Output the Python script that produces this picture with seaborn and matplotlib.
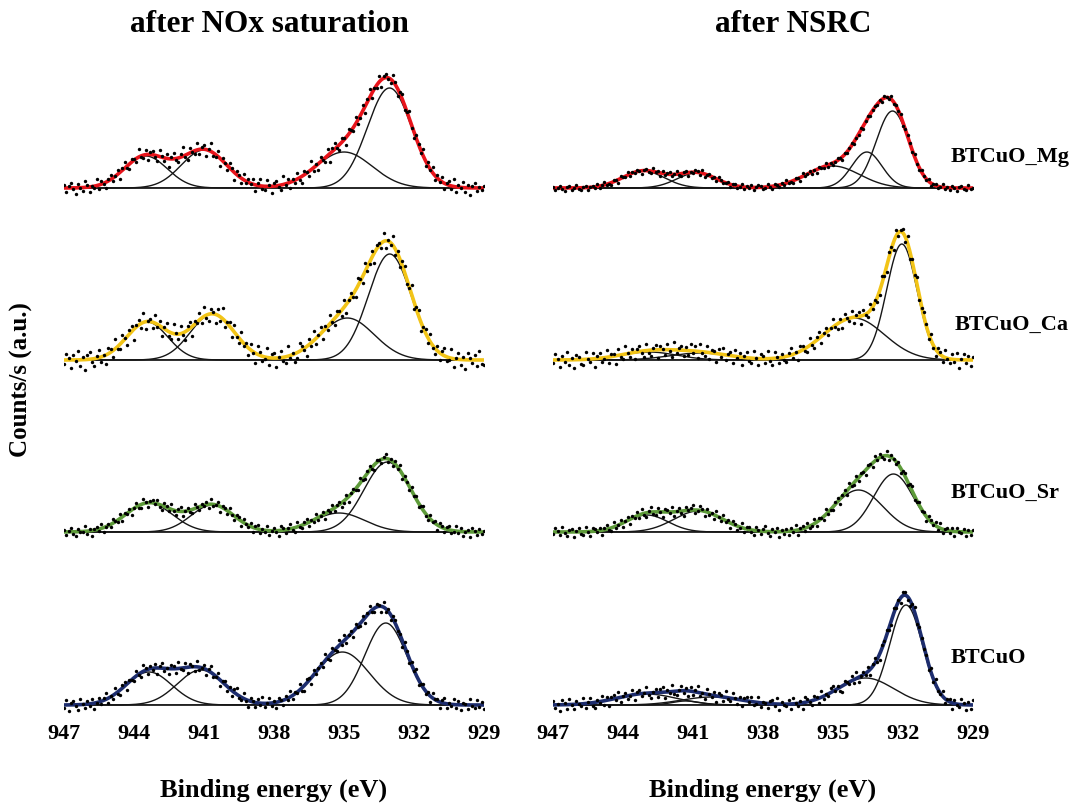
import numpy as np
import pandas as pd
import matplotlib
matplotlib.use("Agg")
import matplotlib.pyplot as plt
import seaborn as sns

# ---------------------------------------------------------------- data ----
energy_ticks = [947, 944, 941, 938, 935, 932, 929]
energy_window = (947.0, 929.0)
panel_titles = ["after NOx saturation", "after NSRC"]
sample_names = ["BTCuO_Mg", "BTCuO_Ca", "BTCuO_Sr", "BTCuO"]
envelope_colors = ["#e8141b", "#f2c417", "#5e9b3a", "#1d2d6e"]

# Cu 2p3/2 fit components: centre (eV), height (a.u.), sigma (eV)
# --- after NOx saturation
sat_mg_centers = [943.50, 941.00, 935.00, 933.05]
sat_mg_heights = [32, 38, 36, 100]
sat_mg_sigmas = [0.92, 0.97, 1.20, 0.95]

sat_ca_centers = [943.43, 940.64, 934.86, 933.04]
sat_ca_heights = [38, 46, 42, 106]
sat_ca_sigmas = [0.88, 0.94, 1.15, 0.92]

sat_sr_centers = [943.36, 940.64, 935.21, 933.14]
sat_sr_heights = [29, 27, 19, 70]
sat_sr_sigmas = [1.00, 0.92, 1.10, 1.00]

sat_bt_centers = [943.36, 941.14, 935.07, 933.21]
sat_bt_heights = [33, 35, 53, 82]
sat_bt_sigmas = [0.98, 1.00, 1.15, 0.90]

# --- after NSRC
nsrc_mg_centers = [943.13, 940.84, 935.00, 933.55, 932.45]
nsrc_mg_heights = [17, 15, 22, 36, 77]
nsrc_mg_sigmas = [0.90, 0.85, 1.15, 0.65, 0.70]

nsrc_ca_centers = [942.90, 940.70, 934.10, 932.05]
nsrc_ca_heights = [8, 7, 42, 116]
nsrc_ca_sigmas = [1.20, 1.30, 1.30, 0.65]

nsrc_sr_centers = [942.98, 940.77, 933.91, 932.41]
nsrc_sr_heights = [17, 21, 42, 58]
nsrc_sr_sigmas = [0.90, 1.05, 1.05, 0.85]

nsrc_bt_centers = [943.00, 941.30, 940.20, 933.60, 931.87]
nsrc_bt_heights = [11, 4, 8, 27, 100]
nsrc_bt_sigmas = [1.30, 0.60, 1.30, 1.20, 0.70]

# Measured counts minus fit (residuals), 0.1 eV steps from 947 to 929 eV
sat_mg_resid = [
    3, -4, 2, 5, -1, -6, 4, 0, -3, 6, 2, -5, 1, -2, 7, -4, 3, -1, -6, 2,
    5, -3, 0, 4, -7, 2, 6, -2, -5, 3, 1, -4, 8, -1, -3, 5, -6, 2, 4, -2,
    -5, 7, 1, -3, 4, -8, 2, 6, -1, -4, 3, 9, -2, -6, 5, 0, -3, 7, -5, 2,
    4, -6, 1, 8, -3, -2, 6, -7, 3, 0, -4, 5, 2, -8, 4, 1, -5, 6, -2, 3,
    -1, 5, -6, 2, 7, -3, -4, 6, 1, -7, 3, 5, -2, -5, 8, -1, 4, -6, 2, -3,
    6, -2, -7, 4, 1, -5, 9, -3, 2, -6, 5, 0, -4, 7, -8, 3, 6, -1, -5, 4,
    2, -8, 5, 1, -3, 7, -4, -2, 6, -6, 3, 8, -5, 1, -3, 6, -7, 2, 4, -1,
    -4, 6, 3, -7, 2, 5, -5, 0, 8, -3, -6, 4, 1, -2, 7, -5, 3, -1, 6, -4,
    3, -2, 5, -6, 1, 4, -3, 7, -5, 2, -1, 6, -4, 3, -7, 2, 5, -3, 1, -2,
    2]
sat_ca_resid = [
    -4, 6, 2, -8, 5, -1, 9, -6, 3, -10, 4, 7, -3, -7, 2, 8, -5, 1, -9, 6,
    3, -6, 10, -2, -5, 7, 1, -8, 4, 6, -11, 2, 5, -4, 9, -7, 0, 3, -6, 8,
    -3, 5, -9, 2, 7, -4, -6, 10, 1, -5, 8, -2, -8, 4, 6, -10, 3, -1, 7, -5,
    9, -3, -7, 5, 2, -9, 6, -4, 11, -6, 1, 4, -8, 7, -2, -5, 9, -3, 3, -7,
    6, -1, -10, 8, 3, -5, -2, 9, -7, 4, 5, -9, 1, 7, -4, -6, 10, -3, 2, -8,
    -5, 8, 4, -2, -9, 6, -3, 10, -6, 1, 7, -8, 3, -4, 9, -1, -7, 5, 2, -6,
    7, -9, 1, 5, -3, -7, 8, 2, -6, 9, -4, -2, 6, -10, 4, 3, -5, 8, -7, 1,
    -2, 9, -6, 3, -8, 5, 7, -4, -1, 10, -7, 2, 6, -9, 1, 4, -5, 8, -3, -6,
    5, -7, 3, 8, -4, -2, 9, -8, 1, 6, -5, 3, -9, 7, 2, -3, 5, -6, 9, -4,
    -5]
sat_sr_resid = [
    2, -3, 1, 4, -2, -4, 3, 0, -1, 5, -3, 2, -5, 1, 3, -2, 4, -4, 0, 2,
    -3, 4, 1, -2, 5, -4, 2, -1, 3, -5, 0, 4, -2, -3, 5, 1, -4, 2, 3, -1,
    4, -2, -5, 3, 1, -3, 5, -1, -4, 2, 4, -5, 0, 3, -2, -4, 5, 1, -3, 2,
    -1, 3, -4, 5, -2, 0, 4, -5, 2, 1, -3, 4, -1, -4, 3, 2, -5, 4, 0, -2,
    3, -5, 2, 4, -3, 1, -2, 5, -4, 0, 3, -1, -5, 4, 2, -3, 1, 5, -2, -4,
    5, -1, -3, 2, 4, -4, 1, -2, 5, -3, 0, 3, -5, 2, -1, 4, -3, 1, 3, -4,
    -2, 4, -5, 1, 3, -1, -4, 5, 0, -3, 2, 4, -2, -5, 3, 1, -4, 2, 5, -3,
    1, -4, 3, -2, 5, -5, 2, 0, -3, 4, -1, 3, -4, 1, 5, -2, -3, 4, -1, 2,
    -5, 3, 1, -4, 2, 4, -3, -1, 5, -2, 3, -4, 0, 2, -5, 4, 1, -3, 3, -2,
    1]
sat_bt_resid = [
    -3, 5, -6, 2, 4, -1, -5, 6, 1, -4, 3, -2, 5, -6, 0, 4, -3, 2, 6, -5,
    1, -4, 6, -2, -5, 3, 4, -6, 2, 0, -3, 5, -1, -4, 6, 2, -5, 3, -2, 4,
    -6, 2, 5, -3, 1, -5, 4, 3, -4, 6, -1, -2, 5, -6, 3, 1, -4, 6, -3, 0,
    4, -5, 2, 6, -3, -1, 5, -6, 1, 3, -4, 2, -5, 4, 6, -2, -3, 5, -1, -6,
    3, 1, -5, 4, -2, 6, -4, 0, 5, -3, 2, -6, 4, 1, -5, 3, -2, 6, -4, 2,
    -1, 6, -3, -5, 4, 2, -6, 5, -2, 1, 3, -4, 6, -1, -5, 4, 0, -3, 5, -2,
    6, -4, 1, 3, -6, 5, -1, -3, 4, -5, 2, 6, -2, -4, 3, 1, -6, 5, -3, 2,
    -5, 3, 4, -2, 1, -6, 5, 2, -4, 3, -1, 6, -5, 0, 4, -3, 2, -6, 5, 1,
    2, -6, 3, 5, -4, 1, -2, 6, -3, 4, -5, 2, 1, -4, 6, -1, -3, 5, -2, 3,
    -4]
nsrc_mg_resid = [
    1, -2, 0, 2, -1, -3, 1, 2, -2, 0, 3, -1, -2, 1, 2, -3, 0, 1, -1, 2,
    -2, 1, 3, -1, 0, -2, 2, 1, -3, 2, 0, -1, 3, -2, 1, -1, 2, 0, -3, 1,
    2, -1, -2, 3, 0, 1, -3, 2, -1, 1, 2, -2, 0, 3, -1, -2, 1, 2, -3, 0,
    -1, 2, 1, -2, 3, -3, 0, 2, -1, 1, -2, 3, 1, -1, 0, 2, -3, 1, 2, -2,
    0, 3, -2, 1, -1, 2, -3, 0, 2, 1, -2, -1, 3, 0, -3, 2, 1, -2, 1, -1,
    3, -1, 0, -2, 2, 1, -3, 3, -1, 0, 2, -2, 1, -3, 2, 0, -1, 3, -2, 1,
    -2, 0, 2, 1, -3, 2, -1, 1, 3, -2, 0, -1, 2, -3, 1, 2, -2, 0, 1, -1,
    1, -3, 2, 0, -1, 3, -2, 1, -1, 2, -3, 0, 2, 1, -2, 3, -1, -2, 2, 0,
    -1, 2, -3, 1, 2, -2, 0, 3, -1, 1, -2, 2, 0, -3, 1, 2, -1, -2, 3, -1,
    0]
nsrc_ca_resid = [
    -3, 6, 1, -7, 4, -2, 8, -5, 2, -8, 5, 3, -4, -6, 7, 0, -3, 6, -8, 2,
    5, -4, -1, 7, -6, 3, 2, -8, 6, -2, -5, 8, 1, -4, 4, -7, 3, 5, -2, -6,
    7, -3, -6, 2, 5, -8, 4, 1, -5, 6, -1, -7, 8, -3, 2, 4, -6, 3, -4, 7,
    -2, 5, -7, 8, -1, -4, 6, -6, 3, 2, -8, 5, -3, 7, -5, 1, 4, -7, 6, -1,
    4, -8, 2, 6, -3, -5, 7, 0, -6, 5, 3, -4, 8, -2, -7, 6, 1, -5, 3, -3,
    -6, 3, 7, -4, 1, -8, 5, 4, -2, -5, 8, -1, -6, 3, 6, -7, 2, 5, -4, 1,
    8, -2, -5, 3, -7, 6, 1, -3, 7, -6, 2, 4, -8, 5, -1, -4, 6, -2, 3, -5,
    -4, 7, -1, -6, 5, 2, -8, 6, -3, 1, 4, -5, 7, -7, 3, -2, 8, -4, -1, 5,
    2, -5, 6, -3, -7, 4, 3, -6, 8, -1, -4, 5, -2, 7, -8, 1, 6, -3, 4, -6,
    3]
nsrc_sr_resid = [
    -2, 4, 1, -3, 5, -1, -4, 2, 3, -5, 1, 4, -2, -3, 5, 0, -4, 3, 2, -1,
    3, -5, 2, 4, -1, -3, 5, -2, 0, 4, -4, 1, 3, -5, 2, -1, 4, -3, 5, -2,
    -4, 1, 5, -2, -3, 4, 0, -5, 3, 2, -1, 5, -4, 1, 3, -2, -5, 4, 0, 2,
    5, -3, -1, 4, 2, -5, 3, -2, 1, -4, 5, 0, -3, 4, -1, 2, -5, 3, 1, -4,
    -1, 5, -4, 2, 3, -2, -5, 4, 1, -3, 2, 5, -1, -4, 3, 0, 4, -5, 2, -2,
    2, -4, 3, -1, 5, -5, 1, 3, -3, 4, -2, -1, 5, -4, 2, 1, -3, 5, -2, 0,
    -3, 2, 4, -5, 1, 3, -4, 5, -1, -2, 4, -3, 2, 0, -5, 3, 1, -4, 5, -1,
    4, -1, -3, 5, -4, 2, 0, -2, 3, -5, 1, 4, -3, 2, 5, -4, -1, 3, -2, 1,
    -5, 3, 2, -1, 4, -3, 5, -4, 1, 2, -2, 3, -5, 4, 0, -1, 3, -4, 2, -3,
    2]
nsrc_bt_resid = [
    4, -3, 1, -6, 5, 2, -4, 6, -1, -5, 3, 0, -2, 6, -4, 1, 5, -3, -6, 2,
    -1, 5, -4, 3, -6, 2, 4, -2, 6, -5, 1, 3, -3, -1, 5, -6, 2, 4, -2, 0,
    6, -2, -5, 1, 4, -4, 3, 5, -6, 2, -1, 6, -3, -4, 1, 5, -2, 3, -5, 4,
    -4, 2, 6, -3, 0, -5, 5, 1, -2, 4, -6, 3, 2, -4, 6, -1, -3, 5, 1, -5,
    3, -6, 2, 4, -1, 5, -3, -2, 6, -4, 1, 0, -5, 3, 4, -2, 6, -6, 2, -1,
    -2, 4, -5, 6, 1, -3, 2, -6, 5, 3, -1, -4, 4, 2, -5, 6, -3, 1, -2, 5,
    5, -1, 3, -4, -6, 4, 1, -2, 5, -3, 6, -5, 0, 3, -2, 4, -6, 2, 5, -3,
    -6, 3, 1, 5, -2, -4, 6, -1, 2, -5, 4, 3, -3, -6, 1, 5, -4, 2, 0, -2,
    1, -5, 4, -3, 6, -2, -1, 5, -4, 2, 3, -6, 4, -1, -3, 6, 2, -5, 3, -4,
    5]

panels = [
    [(sat_mg_centers, sat_mg_heights, sat_mg_sigmas, sat_mg_resid),
     (sat_ca_centers, sat_ca_heights, sat_ca_sigmas, sat_ca_resid),
     (sat_sr_centers, sat_sr_heights, sat_sr_sigmas, sat_sr_resid),
     (sat_bt_centers, sat_bt_heights, sat_bt_sigmas, sat_bt_resid)],
    [(nsrc_mg_centers, nsrc_mg_heights, nsrc_mg_sigmas, nsrc_mg_resid),
     (nsrc_ca_centers, nsrc_ca_heights, nsrc_ca_sigmas, nsrc_ca_resid),
     (nsrc_sr_centers, nsrc_sr_heights, nsrc_sr_sigmas, nsrc_sr_resid),
     (nsrc_bt_centers, nsrc_bt_heights, nsrc_bt_sigmas, nsrc_bt_resid)],
]

# -------------------------------------------------------------- layout ----
W, H = 1078, 807
row_offsets = [532, 360, 188, 15]          # vertical stacking of spectra
panel_left_px = [64, 553]
panel_width_px = 420
axes_top_px, axes_bottom_px = 50, 720
title_x_px = [270, 793]
label_y_px = [157, 325, 493, 658]
label_x_px = [951, 955, 951, 951]

sns.set_style("white")
plt.rcParams["font.family"] = ["Liberation Serif", "DejaVu Serif"]
plt.rcParams["font.weight"] = "bold"
plt.rcParams["text.color"] = "black"
plt.rcParams["axes.labelcolor"] = "black"
plt.rcParams["xtick.color"] = "black"

fig = plt.figure(figsize=(W / 100, H / 100), dpi=100)


def gaussian(x, c, h, s):
    return h * np.exp(-(x - c) ** 2 / (2.0 * s ** 2))


fine_e = np.linspace(energy_window[0], energy_window[1], 901)

for p, spectra in enumerate(panels):
    ax = fig.add_axes([panel_left_px[p] / W, 1 - axes_bottom_px / H,
                       panel_width_px / W, (axes_bottom_px - axes_top_px) / H])
    for r, (centers, heights, sigmas, resid) in enumerate(spectra):
        off = row_offsets[r]
        comps = [gaussian(fine_e, c, h, s) for c, h, s in zip(centers, heights, sigmas)]
        envelope = np.sum(comps, axis=0)

        for comp in comps:
            sns.lineplot(x=fine_e, y=comp + off, ax=ax, color="#161616",
                         linewidth=1.0, sort=False, estimator=None, zorder=2)
        sns.lineplot(x=fine_e, y=envelope + off, ax=ax,
                     color=envelope_colors[r], linewidth=2.6,
                     sort=False, estimator=None, zorder=3)

        grid_e = np.linspace(energy_window[0], energy_window[1], len(resid))
        fit_on_grid = np.sum([gaussian(grid_e, c, h, s)
                              for c, h, s in zip(centers, heights, sigmas)], axis=0)
        pts = pd.DataFrame({"energy": grid_e,
                            "counts": fit_on_grid + np.asarray(resid) + off})
        sns.scatterplot(data=pts, x="energy", y="counts", ax=ax, s=6,
                        color="black", linewidth=0, zorder=4)

    ax.set_xlim(*energy_window)
    ax.set_ylim(0, axes_bottom_px - axes_top_px)
    ax.set_xticks(energy_ticks)
    ax.set_xticklabels([str(t) for t in energy_ticks])
    ax.set_yticks([])
    ax.tick_params(axis="x", length=0, pad=3, labelsize=16, labelcolor="black")
    for lab in ax.get_xticklabels():
        lab.set_fontweight("bold")
    for sp in ax.spines.values():
        sp.set_visible(False)
    ax.patch.set_alpha(0)
    ax.set_ylabel("")
    ax.set_xlabel("Binding energy (eV)", fontsize=19, fontweight="bold",
                  color="black")
    ax.xaxis.set_label_coords(0.5, -(790 - axes_bottom_px) / (axes_bottom_px - axes_top_px))
    ax.xaxis.label.set_va("center")

    fig.text(title_x_px[p] / W, 1 - 25 / H, panel_titles[p],
             ha="center", va="center", fontsize=22.5, fontweight="bold",
             color="black")

for name, lx, ly in zip(sample_names, label_x_px, label_y_px):
    fig.text(lx / W, 1 - ly / H, name, ha="left", va="center",
             fontsize=16, fontweight="bold", color="black")

fig.text(21 / W, 1 - 380 / H, "Counts/s (a.u.)", rotation=90,
         ha="center", va="center", fontsize=18, fontweight="bold",
         color="black")

fig.savefig("out.png", dpi=100)
